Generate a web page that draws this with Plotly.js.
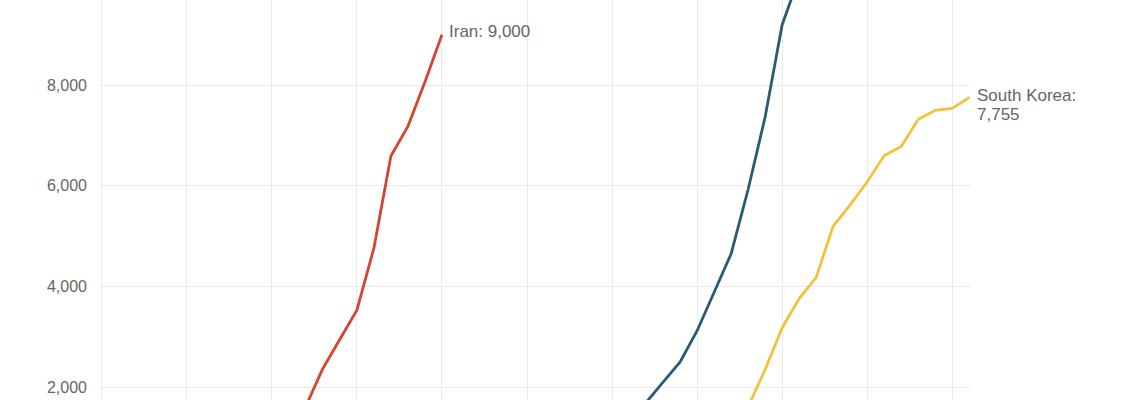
<!DOCTYPE html>
<html>
<head>
<meta charset="utf-8">
<script src="https://cdn.plot.ly/plotly-3.0.1.min.js"></script>
<style>
  html, body { margin: 0; padding: 0; background: #fff; }
  #chart { width: 1140px; height: 400px; }
</style>
</head>
<body>
<div id="chart"></div>
<script>
// Day index (aligned) and confirmed cases
const iranDays  = [11, 12, 13, 14, 15, 16, 17, 18, 19, 20];
const iranCases = [980, 1620, 2370, 2950, 3530, 4760, 6590, 7180, 8060, 9000];

const italyDays  = [31, 32, 33, 34, 35, 36, 37, 38, 39, 40, 41];
const italyCases = [1128, 1694, 2100, 2500, 3120, 3900, 4650, 5930, 7370, 9200, 10149];

const koreaDays  = [37, 38, 39, 40, 41, 42, 43, 44, 45, 46, 47, 48, 49, 50, 51];
const koreaCases = [1200, 1610, 2350, 3180, 3760, 4180, 5200, 5620, 6080, 6600, 6780, 7320, 7500, 7535, 7755];

const yTickVals = [2000, 4000, 6000, 8000];
const iranLabel = "Iran: 9,000";
const koreaLabel1 = "South Korea:";
const koreaLabel2 = "7,755";

const colors = { iran: "#d6442f", italy: "#2c5a72", korea: "#f0c33c" };

const traces = [
  { x: iranDays, y: iranCases, mode: "lines", line: { color: colors.iran, width: 2.8 }, hoverinfo: "skip" },
  { x: italyDays, y: italyCases, mode: "lines", line: { color: colors.italy, width: 2.8 }, hoverinfo: "skip" },
  { x: koreaDays, y: koreaCases, mode: "lines", line: { color: colors.korea, width: 2.8 }, hoverinfo: "skip" }
];

const labelFont = { family: "Liberation Sans, Arial, Helvetica, sans-serif", size: 17, color: "#666666" };

const layout = {
  width: 1140,
  height: 400,
  margin: { l: 100, r: 170, t: 0, b: 0, pad: 0 },
  paper_bgcolor: "#ffffff",
  plot_bgcolor: "#ffffff",
  showlegend: false,
  separators: ".,",
  font: { family: "Liberation Sans, Arial, Helvetica, sans-serif", size: 16, color: "#666666" },
  xaxis: {
    range: [-0.1, 51.04],
    tick0: 0,
    dtick: 5,
    showgrid: true,
    gridcolor: "#ebebeb",
    gridwidth: 1,
    zeroline: false,
    showline: false,
    showticklabels: false,
    ticks: ""
  },
  yaxis: {
    range: [1744, 9690],
    tickvals: yTickVals,
    tickformat: ",",
    showgrid: true,
    gridcolor: "#ebebeb",
    gridwidth: 1,
    zeroline: false,
    showline: false,
    ticks: "",
    ticklabelstandoff: 12,
    tickfont: { size: 16, color: "#666666" }
  },
  annotations: [
    { x: iranDays[iranDays.length - 1], y: iranCases[iranCases.length - 1], xref: "x", yref: "y",
      text: iranLabel, showarrow: false, xanchor: "left", yanchor: "middle", xshift: 5, yshift: 3, font: labelFont },
    { x: koreaDays[koreaDays.length - 1], y: koreaCases[koreaCases.length - 1], xref: "x", yref: "y",
      text: koreaLabel1, showarrow: false, xanchor: "left", yanchor: "middle", xshift: 6, yshift: 2, font: labelFont },
    { x: koreaDays[koreaDays.length - 1], y: koreaCases[koreaCases.length - 1], xref: "x", yref: "y",
      text: koreaLabel2, showarrow: false, xanchor: "left", yanchor: "middle", xshift: 6, yshift: -17, font: labelFont }
  ]
};

Plotly.newPlot("chart", traces, layout, { staticPlot: true, displayModeBar: false });
</script>
</body>
</html>
